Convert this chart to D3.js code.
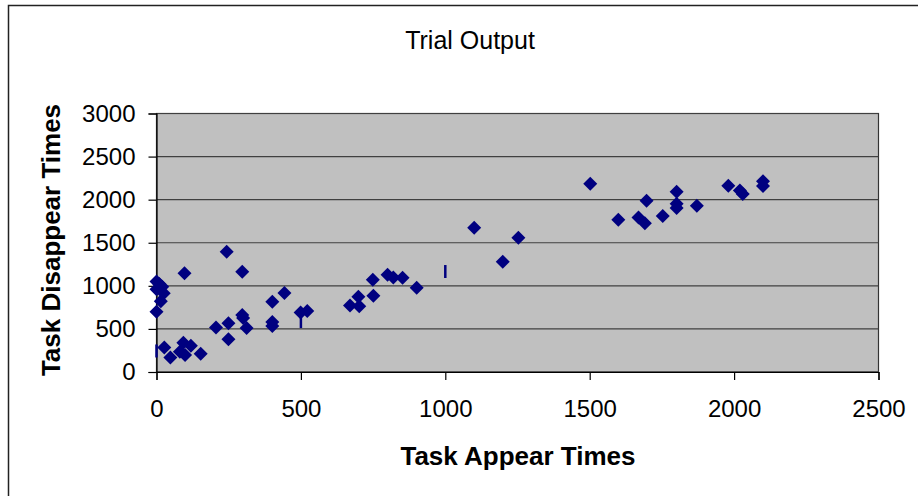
<!DOCTYPE html>
<html><head><meta charset="utf-8">
<script src="https://cdn.jsdelivr.net/npm/d3@7"></script>
<style>html,body{margin:0;padding:0;background:#fff;}svg{display:block;}</style>
</head><body>
<script>
// Task appear / disappear times (diamond markers)
const appearTimes = [0,10,0,20,25,15,0, 97, 27,48,93,81,99,119,153,
  243,297,401,443,206,249,249,297,300,312,401,401,499,522,
  670,699,702,749,751,800,820,852,901,
  1100,1253,1199,1502,1599,1697,1669,1691,1753,1801,1801,1801,1871,1980,2020,2030,2100,2100];
const disappearTimes = [1050,1020,960,990,915,820,700, 1145, 284,168,340,236,197,304,212,
  1396,1164,816,916,516,565,379,661,627,510,580,533,690,708,
  772,874,762,1072,884,1130,1096,1095,978,
  1675,1559,1280,2186,1768,1987,1793,1726,1810,2092,1952,1903,1930,2162,2105,2065,2215,2160];
// points drawn as thin vertical dashes
const dashX = [0, 500, 1000];
const dashY = [244, 585, 1166];
const xTicks = [0,500,1000,1500,2000,2500];
const yTicks = [0,500,1000,1500,2000,2500,3000];

const W = 918, H = 496;
const m = {left:156.5, right:878.5, top:113.5, bottom:372};
const svg = d3.select("body").append("svg").attr("width",W).attr("height",H);
const font = "'Liberation Sans', Arial, sans-serif";

svg.append("rect").attr("x",8.5).attr("y",5.5).attr("width",W+10).attr("height",H+10)
  .attr("fill","#fff").attr("stroke","#222").attr("stroke-width",1.5);

const x = d3.scaleLinear().domain([0,2500]).range([m.left,m.right]);
const y = d3.scaleLinear().domain([0,3000]).range([m.bottom,m.top]);

svg.append("rect").attr("x",m.left).attr("y",m.top).attr("width",m.right-m.left)
  .attr("height",m.bottom-m.top).attr("fill","#c0c0c0").attr("stroke","#333").attr("stroke-width",1.2);

svg.append("g").selectAll("line").data(yTicks).join("line")
  .attr("x1",m.left).attr("x2",m.right).attr("y1",d=>y(d)).attr("y2",d=>y(d))
  .attr("stroke","#404040").attr("stroke-width",1.2);

const xAxis = svg.append("g").attr("transform",`translate(0,${m.bottom})`)
  .call(d3.axisBottom(x).tickValues(xTicks).tickSize(8).tickPadding(20).tickFormat(d3.format("d")));
const yAxis = svg.append("g").attr("transform",`translate(${m.left},0)`)
  .call(d3.axisLeft(y).tickValues(yTicks).tickSize(8).tickPadding(13).tickFormat(d3.format("d")));
[xAxis,yAxis].forEach(g=>{
  g.select(".domain").attr("stroke","#000").attr("stroke-width",1.2);
  g.selectAll(".tick line").attr("stroke","#000").attr("stroke-width",1.2);
  g.selectAll("text").attr("font-family",font).attr("font-size",24).attr("fill","#000");
});

const pts = appearTimes.map((a,i)=>({x:a,y:disappearTimes[i]}));
const sym = d3.symbol().type(d3.symbolSquare).size(98);
svg.append("g").selectAll("path").data(pts).join("path")
  .attr("d",sym).attr("transform",d=>`translate(${x(d.x)},${y(d.y)}) rotate(45)`)
  .attr("fill","#000080");

const dashes = dashX.map((a,i)=>({x:a,y:dashY[i]}));
svg.append("g").selectAll("line").data(dashes).join("line")
  .attr("x1",d=>x(d.x)).attr("x2",d=>x(d.x)).attr("y1",d=>y(d.y)-6.5).attr("y2",d=>y(d.y)+6.5)
  .attr("stroke","#000080").attr("stroke-width",2.5);

svg.append("text").attr("x",470).attr("y",49).attr("text-anchor","middle")
  .attr("font-family",font).attr("font-size",25).text("Trial Output");
svg.append("text").attr("x",518).attr("y",465).attr("text-anchor","middle")
  .attr("font-family",font).attr("font-size",26).attr("font-weight","bold").text("Task Appear Times");
svg.append("text").attr("transform",`translate(60,240) rotate(-90)`).attr("text-anchor","middle")
  .attr("font-family",font).attr("font-size",26).attr("font-weight","bold").text("Task Disappear Times");
</script>
</body></html>
